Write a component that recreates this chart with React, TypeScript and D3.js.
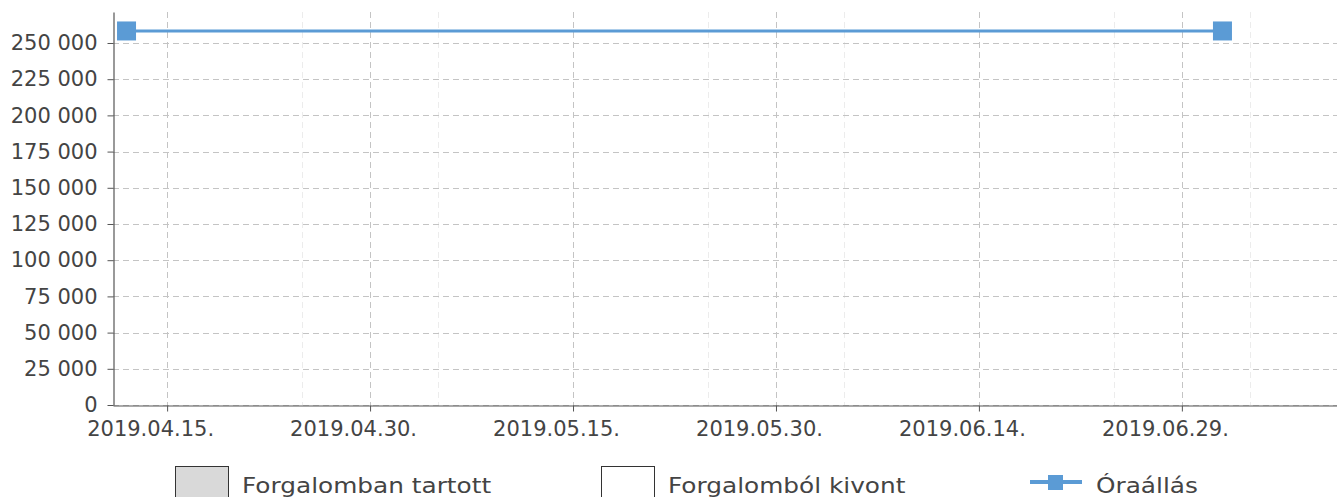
import * as d3 from "d3";
import { useEffect, useMemo, useRef } from "react";

const WIDTH = 1337;
const HEIGHT = 497;
const MARGIN = { top: 12, left: 113, bottom: 92 };
const PX_PER_DAY = 13.53;

const parseDate = d3.timeParse("%Y-%m-%d");

// mérési pontok
const readingDates = ["2019-04-12", "2019-07-02"];
const readingValues = [258300, 258300];

const yTicks = [0, 25000, 50000, 75000, 100000, 125000, 150000, 175000, 200000, 225000, 250000];
const majorTickDates = ["2019-04-15", "2019-04-30", "2019-05-15", "2019-05-30", "2019-06-14", "2019-06-29"];
const minorTickDates = ["2019-04-25", "2019-05-05", "2019-05-25", "2019-06-04", "2019-06-24", "2019-07-04"];
const legendLabels = ["Forgalomban tartott", "Forgalomból kivont", "Óraállás"];

const FONT = "DejaVu Sans, sans-serif";
const LINE_COLOR = "#5b9bd5";

type Reading = { date: Date; value: number };

export const MileageChart = () => {
  const data: Reading[] = readingDates.map((d, i) => ({ date: parseDate(d)!, value: readingValues[i] }));
  const start = parseDate("2019-04-11")!;
  const end = parseDate("2019-07-11")!;
  const bottomY = HEIGHT - MARGIN.bottom;

  const xScale = useMemo(() => {
    const days = d3.timeDay.count(start, end);
    return d3.scaleTime().domain([start, end]).range([MARGIN.left, MARGIN.left + days * PX_PER_DAY]);
  }, []);

  const yScale = useMemo(() => {
    return d3.scaleLinear().domain([0, 271400]).range([bottomY, MARGIN.top]);
  }, []);

  const gridRef = useRef<SVGGElement>(null);
  const axesRef = useRef<SVGGElement>(null);

  useEffect(() => {
    document.body.style.margin = "0";
    const g = d3.select(gridRef.current);
    g.selectAll("*").remove();
    // vékony segédrács (10 naponta)
    g.append("g")
      .selectAll("line")
      .data(minorTickDates.map((d) => parseDate(d)!))
      .join("line")
      .attr("x1", (d) => Math.round(xScale(d)) + 0.5)
      .attr("x2", (d) => Math.round(xScale(d)) + 0.5)
      .attr("y1", MARGIN.top)
      .attr("y2", bottomY)
      .attr("stroke", "#ececec")
      .attr("stroke-dasharray", "6,4");
    // vízszintes rács
    g.append("g")
      .selectAll("line")
      .data(yTicks)
      .join("line")
      .attr("x1", MARGIN.left)
      .attr("x2", WIDTH)
      .attr("y1", (d) => Math.round(yScale(d)) + 0.5)
      .attr("y2", (d) => Math.round(yScale(d)) + 0.5)
      .attr("stroke", "#c4c4c4")
      .attr("stroke-dasharray", "6,4");
    // függőleges fő rács
    g.append("g")
      .selectAll("line")
      .data(majorTickDates.map((d) => parseDate(d)!))
      .join("line")
      .attr("x1", (d) => Math.round(xScale(d)) + 0.5)
      .attr("x2", (d) => Math.round(xScale(d)) + 0.5)
      .attr("y1", MARGIN.top)
      .attr("y2", bottomY)
      .attr("stroke", "#c4c4c4")
      .attr("stroke-dasharray", "6,4");

    const a = d3.select(axesRef.current);
    a.selectAll("*").remove();
    const yAxis = a
      .append("g")
      .attr("transform", `translate(${MARGIN.left + 0.5},0)`)
      .call(
        d3
          .axisLeft(yScale)
          .tickValues(yTicks)
          .tickSize(6)
          .tickSizeOuter(0)
          .tickPadding(10)
          .tickFormat((d) => d3.format(",")(d as number).replace(/,/g, " "))
      );
    const xAxis = a
      .append("g")
      .attr("transform", `translate(0,${bottomY + 0.5})`)
      .call(
        d3
          .axisBottom(xScale)
          .tickValues(majorTickDates.map((d) => parseDate(d)!))
          .tickSize(6)
          .tickSizeOuter(0)
          .tickPadding(10)
          .tickFormat((d) => d3.timeFormat("%Y.%m.%d.")(d as Date))
      );
    xAxis.selectAll(".tick text").attr("dx", -17);
    [yAxis, xAxis].forEach((ax) => {
      ax.select(".domain").attr("stroke", "#555").attr("stroke-width", 1.2);
      ax.selectAll(".tick line").attr("stroke", "#555");
      ax.selectAll(".tick text").attr("fill", "#444").style("font-family", FONT).style("font-size", "21px");
    });
  }, [xScale, yScale]);

  const line = d3
    .line<Reading>()
    .x((d) => xScale(d.date))
    .y((d) => yScale(d.value));

  return (
    <svg width={WIDTH} height={HEIGHT} style={{ display: "block" }}>
      <g ref={gridRef} />
      <g ref={axesRef} />
      <path d={line(data) || ""} fill="none" stroke={LINE_COLOR} strokeWidth={3} />
      {data.map((d, i) => (
        <rect
          key={i}
          x={xScale(d.date) - 9.5}
          y={yScale(d.value) - 9.5}
          width={19}
          height={19}
          fill={LINE_COLOR}
        />
      ))}
      {/* jelmagyarázat */}
      <g style={{ fontFamily: FONT, fontSize: 21 }} fill="#444">
        <rect x={175.5} y={466.5} width={53} height={40} fill="#d9d9d9" stroke="#333" />
        <text transform="translate(242,493) scale(1.18,1)">{legendLabels[0]}</text>
        <rect x={601.5} y={466.5} width={53} height={40} fill="#fff" stroke="#333" />
        <text transform="translate(668,493) scale(1.18,1)">{legendLabels[1]}</text>
        <line x1={1030} x2={1082} y1={482} y2={482} stroke={LINE_COLOR} strokeWidth={4} />
        <rect x={1048} y={475} width={15} height={15} fill={LINE_COLOR} />
        <text transform="translate(1096,493) scale(1.18,1)">{legendLabels[2]}</text>
      </g>
    </svg>
  );
};

export default function App() {
  return <MileageChart />;
}
